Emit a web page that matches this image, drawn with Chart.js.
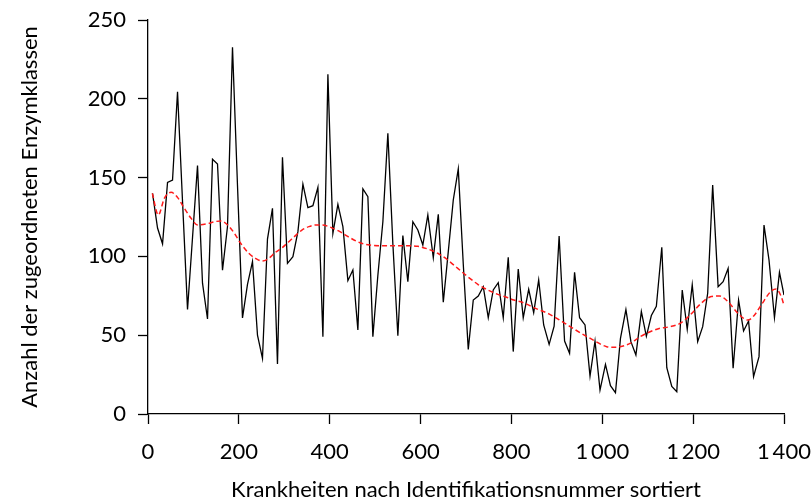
<!DOCTYPE html>
<html>
<head>
<meta charset="utf-8">
<script src="https://cdn.jsdelivr.net/npm/chart.js@4.4.1/dist/chart.umd.min.js"></script>
<style>
  html, body { margin: 0; padding: 0; background: #fff; }
  #wrap { width: 812px; height: 503px; }
</style>
</head>
<body>
<div id="wrap"><canvas id="c" width="812" height="503"></canvas></div>
<script>
// Disease identification number (position on x axis) for each point
const ids = [10,21,32,43,54,65,76,87,98,109,120,131,142,153,164,175,186,197,208,219,
  230,241,252,263,274,285,296,307,319,330,341,352,363,374,385,396,407,418,429,440,
  451,462,473,484,495,506,517,528,539,550,561,572,583,594,605,616,628,639,650,661,
  672,683,694,705,716,727,738,749,760,771,782,793,804,815,826,838,849,860,871,883,
  894,905,917,928,939,950,962,973,984,995,1007,1018,1029,1040,1052,1063,1074,1086,1097,1108,
  1119,1131,1142,1153,1164,1176,1187,1198,1210,1221,1232,1243,1255,1266,1277,1288,1300,1311,1322,1333,
  1345,1356,1367,1379,1390,1400];

// Number of assigned enzyme classes
const enzymeCounts = [140,118,108,147,148.5,204.5,135,66.4,112,157.6,83,60.3,161.6,158.6,91.2,119,232.7,145,61,82.3,
  96.7,50.1,35.3,111,130.5,31.7,162.9,95.6,99.8,115.7,145.9,130.9,132.2,143.8,49.1,215.5,114.6,133,118.9,84.6,
  91.4,53.3,142.8,137.9,49.1,88,122,178.1,108,49.7,113.2,84,122,116.8,107.2,126.3,99.2,126.7,70.9,103,
  135.8,155.5,95,41,72.3,74.9,80.8,61.1,78.7,83.3,61.1,99.4,39.6,92,61.1,79.1,64.3,85,56.5,44.2,
  55.8,112.9,46.3,38.5,89.9,61.1,56.5,24.1,46.3,15.2,31.5,18,13.5,48,66.2,45.9,37.4,65,49.3,62.5,
  68.3,105.8,29.4,17.5,14.2,78.7,53.8,82,45.9,55.4,76.6,145.3,80.8,84,92.4,29,72.3,52.7,59,23.7,
  36.4,119.9,97.7,61.1,89.9,75.5];

// Smoothed trend (red dashed), read at these x positions
const trendX = [9.5,22.7,35.9,50.7,65.3,80,94.8,109.3,131.4,146.2,160.9,175.5,190.3,203.5,221.8,236.6,251.3,265.9,280.6,295.4,
  310,324.7,339.5,354.1,368.8,383.6,404.1,422.4,444.4,466.5,488.5,510.6,540.1,569.4,593.7,615.7,637.8,659.8,681.9,703.9,
  726,748,770.1,792.1,805.3,823.6,853.2,882.5,911.8,941.4,970.7,1009.7,1024.3,1039,1061.1,1083.1,1105.2,1127.2,1149.3,1171.3,
  1193.4,1217.6,1239.7,1258,1276.5,1298.5,1320.5,1335.1,1349.9,1371.9,1382.9,1393.9,1400];
const trendY = [140,126.3,136.8,140.7,137.3,130.5,124.2,119.9,120.8,122,122.5,119.9,114.6,108.5,102,98.8,97.1,98.8,102.6,105.5,
  109.3,113.2,116.8,118.9,119.9,119.9,118.2,115.7,111.9,108.7,107.2,106.8,106.8,106.8,106.4,104.7,102,97.7,92.4,87.1,
  82.3,78.7,75.9,73.8,72.3,70.9,67,63.5,58.6,53.3,48.4,42.7,42.3,42.7,44.8,49,52.2,54.4,55.4,57.5,
  62.8,70.2,74.5,74.9,71.3,63.9,59.6,62.8,69.2,78,79.3,74.5,69];

const xTicks = [0,200,400,600,800,1000,1200,1400];
const yTicks = [0,50,100,150,200,250];
const xTitle = 'Krankheiten nach Identifikationsnummer sortiert';
const yTitle = 'Anzahl der zugeordneten Enzymklassen';

const FONT = 'Lato, "Open Sans", sans-serif';

function fmt(v) {
  const s = String(v);
  return s.length > 3 ? s.slice(0, s.length - 3) + '\u2009' + s.slice(-3) : s;
}

const ctx = document.getElementById('c').getContext('2d');
new Chart(ctx, {
  type: 'line',
  data: {
    datasets: [
      {
        data: trendX.map((x, i) => ({ x, y: trendY[i] })),
        borderColor: '#ff1a1a',
        borderWidth: 1.5,
        borderDash: [5, 3],
        pointRadius: 0,
        cubicInterpolationMode: 'monotone',
        fill: false,
        order: 0
      },
      {
        data: ids.map((x, i) => ({ x, y: enzymeCounts[i] })),
        borderColor: '#000',
        borderWidth: 1.3,
        pointRadius: 0,
        tension: 0,
        fill: false,
        order: 1
      }
    ]
  },
  options: {
    responsive: false,
    animation: false,
    events: [],
    layout: { padding: { left: 0, right: 28, top: 20, bottom: 0 } },
    plugins: { legend: { display: false }, tooltip: { enabled: false } },
    scales: {
      x: {
        type: 'linear',
        min: 0, max: 1400,
        afterBuildTicks: (s) => { s.ticks = xTicks.map(v => ({ value: v })); },
        afterFit: (s) => { s.height = 89; s.paddingLeft = 0; s.paddingRight = 0; },
        ticks: { callback: (v) => fmt(v), color: '#000', font: { family: FONT, size: 22 }, padding: 15, maxRotation: 0, autoSkip: false },
        grid: { drawOnChartArea: false, drawTicks: true, tickLength: 10, tickColor: '#000', tickWidth: 1.3 },
        border: { display: true, color: '#000', width: 1.3 },
        title: { display: true, text: xTitle, color: '#000', font: { family: FONT, size: 22 }, padding: { top: 0, bottom: 0 } }
      },
      y: {
        type: 'linear',
        min: 0, max: 250,
        afterBuildTicks: (s) => { s.ticks = yTicks.map(v => ({ value: v })); },
        afterFit: (s) => { s.width = 148; s.paddingTop = 0; s.paddingBottom = 0; },
        ticks: { color: '#000', font: { family: FONT, size: 22 }, padding: 12, autoSkip: false },
        grid: { drawOnChartArea: false, drawTicks: true, tickLength: 10, tickColor: '#000', tickWidth: 1.3 },
        border: { display: true, color: '#000', width: 1.3 },
        title: { display: true, text: yTitle, color: '#000', font: { family: FONT, size: 22 }, padding: { top: 17, bottom: 0 } }
      }
    }
  }
});
</script>
</body>
</html>
